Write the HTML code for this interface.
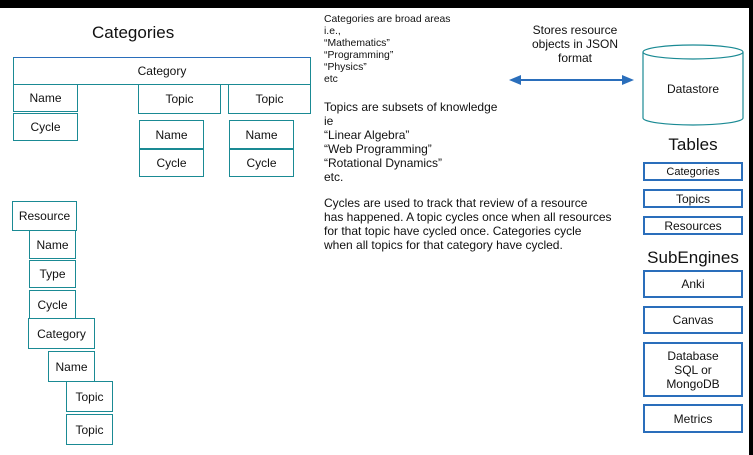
<!DOCTYPE html>
<html><head><meta charset="utf-8"><style>
body{margin:0;width:753px;height:455px;position:relative;background:#fff;overflow:hidden;font-family:"Liberation Sans",Arial,sans-serif;color:#111}
.b{position:absolute;box-sizing:border-box;border:1.5px solid #1a8a94;display:flex;align-items:center;justify-content:center;font-size:12px;text-align:center;background:#fff}
.bl{border:2px solid #2a6ebb}
.t{position:absolute;white-space:nowrap}
</style></head><body>
<div style="position:absolute;left:0;top:0;width:753px;height:8px;background:#000"></div>
<div style="position:absolute;left:749px;top:0;width:4px;height:455px;background:#000"></div>

<div class="t" style="left:92px;top:23px;font-size:17px">Categories</div>
<div class="b" style="left:13px;top:57px;width:298px;height:28px;border-color:#2a6ebb #1a8a94 #1a8a94 #1a8a94">Category</div>
<div class="b" style="left:13px;top:84px;width:65px;height:28px">Name</div>
<div class="b" style="left:13px;top:113px;width:65px;height:28px">Cycle</div>
<div class="b" style="left:138px;top:84px;width:83px;height:30px">Topic</div>
<div class="b" style="left:228px;top:84px;width:83px;height:30px">Topic</div>
<div class="b" style="left:139px;top:120px;width:65px;height:29px">Name</div>
<div class="b" style="left:139px;top:149px;width:65px;height:28px">Cycle</div>
<div class="b" style="left:229px;top:120px;width:65px;height:29px">Name</div>
<div class="b" style="left:229px;top:149px;width:65px;height:28px">Cycle</div>

<div class="b" style="left:12px;top:201px;width:65px;height:30px">Resource</div>
<div class="b" style="left:29px;top:230px;width:47px;height:29px">Name</div>
<div class="b" style="left:29px;top:260px;width:47px;height:28px">Type</div>
<div class="b" style="left:29px;top:290px;width:47px;height:30px">Cycle</div>
<div class="b" style="left:28px;top:318px;width:67px;height:31px">Category</div>
<div class="b" style="left:48px;top:351px;width:47px;height:31px">Name</div>
<div class="b" style="left:66px;top:381px;width:47px;height:31px">Topic</div>
<div class="b" style="left:66px;top:414px;width:47px;height:31px">Topic</div>

<div class="t" style="left:324px;top:14px;font-size:10.4px;line-height:12px">Categories are broad areas<br>i.e.,<br>“Mathematics”<br>“Programming”<br>“Physics”<br>etc</div>
<div class="t" style="left:324px;top:100px;font-size:12px;line-height:14px">Topics are subsets of knowledge<br>ie<br>“Linear Algebra”<br>“Web Programming”<br>“Rotational Dynamics”<br>etc.</div>
<div class="t" style="left:324px;top:196px;font-size:12px;line-height:14px">Cycles are used to track that review of a resource<br>has happened. A topic cycles once when all resources<br>for that topic have cycled once. Categories cycle<br>when all topics for that category have cycled.</div>

<div class="t" style="left:520px;top:23px;width:110px;text-align:center;font-size:12px;line-height:14px;white-space:normal">Stores resource objects in JSON format</div>
<svg style="position:absolute;left:0;top:0" width="753" height="455">
<line x1="518" y1="80" x2="626" y2="80" stroke="#2a6ebb" stroke-width="2"/>
<polygon points="509,80 521,75 521,85" fill="#2a6ebb"/>
<polygon points="634,80 622,75 622,85" fill="#2a6ebb"/>
<path d="M643,52 L643,118 A50,7 0 0 0 743,118 L743,52" fill="#fff" stroke="#1a8a94" stroke-width="1.2"/>
<ellipse cx="693" cy="52" rx="50" ry="7" fill="#fff" stroke="#1a8a94" stroke-width="1.2"/>
</svg>
<div class="t" style="left:643px;top:82px;width:100px;text-align:center;font-size:12px">Datastore</div>

<div class="t" style="left:643px;top:135px;width:100px;text-align:center;font-size:17px">Tables</div>
<div class="b bl" style="left:643px;top:162px;width:100px;height:19px;font-size:11px">Categories</div>
<div class="b bl" style="left:643px;top:189px;width:100px;height:19px">Topics</div>
<div class="b bl" style="left:643px;top:216px;width:100px;height:19px">Resources</div>
<div class="t" style="left:643px;top:248px;width:100px;text-align:center;font-size:17px">SubEngines</div>
<div class="b bl" style="left:643px;top:270px;width:100px;height:28px">Anki</div>
<div class="b bl" style="left:643px;top:306px;width:100px;height:28px">Canvas</div>
<div class="b bl" style="left:643px;top:342px;width:100px;height:55px;line-height:14px">Database<br>SQL or<br>MongoDB</div>
<div class="b bl" style="left:643px;top:404px;width:100px;height:29px">Metrics</div>
</body></html>
